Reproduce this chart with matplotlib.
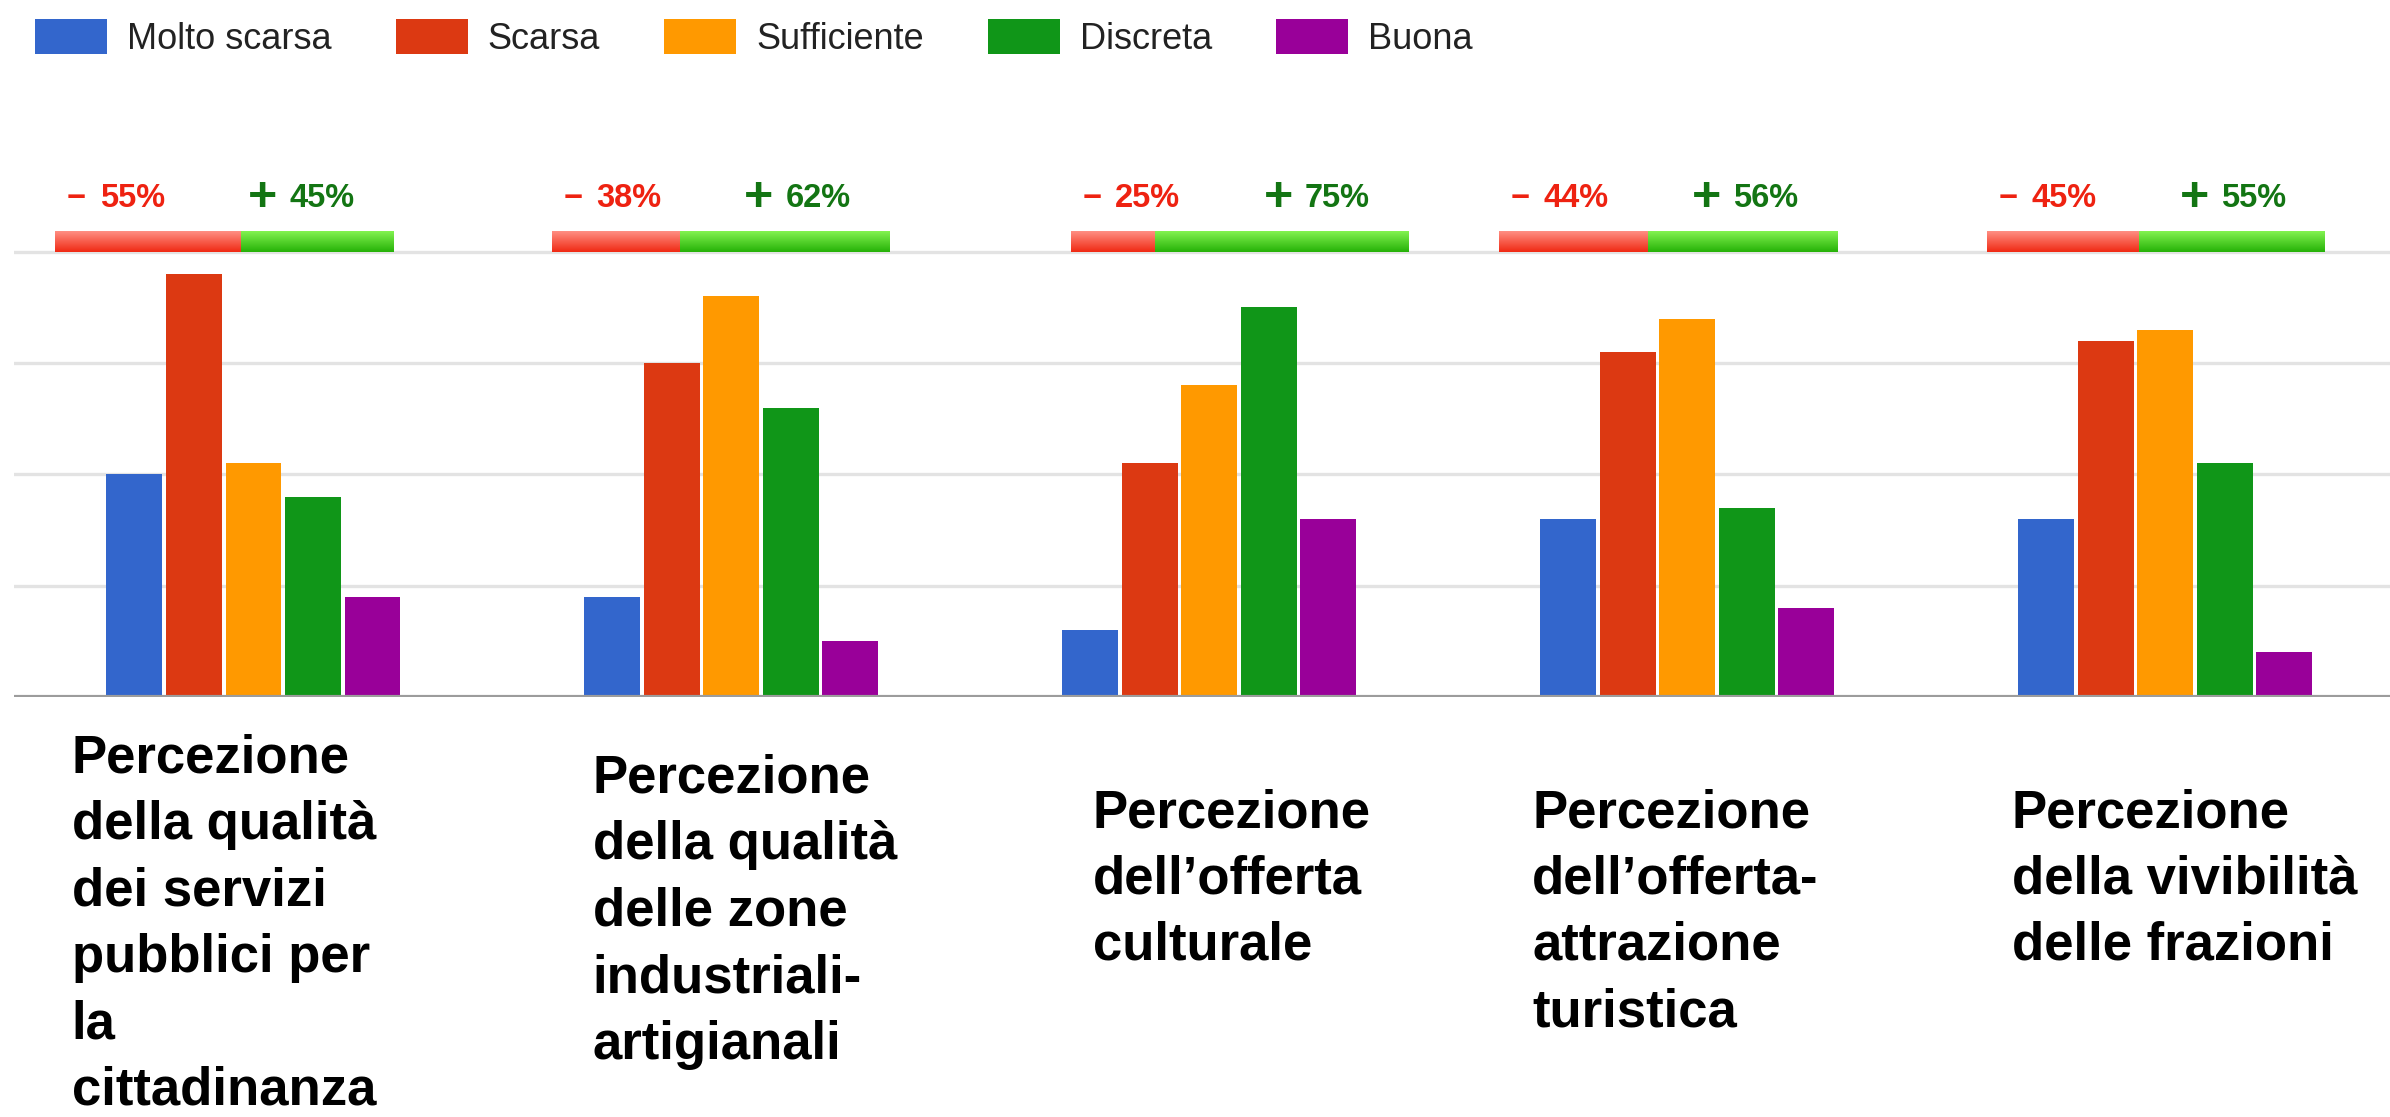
import numpy as np
import matplotlib
matplotlib.use("Agg")
import matplotlib.pyplot as plt
from matplotlib.patches import Patch

plt.rcParams['font.family'] = ['Liberation Sans', 'DejaVu Sans']

# --- data ---
categories = [
    "Percezione\ndella qualità\ndei servizi\npubblici per\nla\ncittadinanza",
    "Percezione\ndella qualità\ndelle zone\nindustriali-\nartigianali",
    "Percezione\ndell’offerta\nculturale",
    "Percezione\ndell’offerta-\nattrazione\nturistica",
    "Percezione\ndella vivibilità\ndelle frazioni",
]
series = ["Molto scarsa", "Scarsa", "Sufficiente", "Discreta", "Buona"]
molto_scarsa = [20, 9, 6, 16, 16]
scarsa = [38, 30, 21, 31, 32]
sufficiente = [21, 36, 28, 34, 33]
discreta = [18, 26, 35, 17, 21]
buona = [9, 5, 16, 8, 4]
neg_pct = [55, 38, 25, 44, 45]
pos_pct = [45, 62, 75, 56, 55]

# --- layout / style ---
colors = ["#3366cc", "#dc3912", "#ff9900", "#109618", "#990099"]
bar_w = 0.117
bar_step = 0.1245
summary_left = [-0.415, -0.376, -0.290, -0.394, -0.373]  # offset from group centre
summary_w = 0.707
summary_y0, summary_y1 = 40.0, 41.8
label_x = [-0.380, -0.290, -0.244, -0.325, -0.321]
label_top = [-3.3, -5.12, -8.18, -8.18, -8.18]
red_txt = "#ee2211"
green_txt = "#137513"


def gradient(top, bottom, n=40):
    t = np.linspace(0, 1, n)[:, None]
    top = np.array(top) / 255.0
    bottom = np.array(bottom) / 255.0
    return (top * (1 - t) + bottom * t)[:, None, :]


fig = plt.figure(figsize=(23.9, 11.17), dpi=100)
ax = fig.add_axes([14 / 2390, 420 / 1117, 2376 / 2390, 556.5 / 1117])

values = [molto_scarsa, scarsa, sufficiente, discreta, buona]
x = np.arange(len(categories))
for j, (name, vals, c) in enumerate(zip(series, values, colors)):
    ax.bar(x + (j - 2) * bar_step, vals, bar_w, color=c, label=name, zorder=2)

# summary bars (negative / positive share) with a light gradient
red_grad = gradient((255, 142, 130), (240, 42, 20))
green_grad = gradient((130, 242, 80), (38, 178, 8))
for i in range(len(categories)):
    left = i + summary_left[i]
    mid = left + summary_w * neg_pct[i] / 100
    right = left + summary_w
    ax.imshow(red_grad, extent=(left, mid, summary_y0, summary_y1),
              aspect='auto', zorder=3, interpolation='bilinear')
    ax.imshow(green_grad, extent=(mid, right, summary_y0, summary_y1),
              aspect='auto', zorder=3, interpolation='bilinear')

    ax.text(left + 0.025, 44.0, "\u2212", color=red_txt, fontsize=23.5,
            fontweight='bold', va='baseline')
    ax.text(left + 0.093, 44.0, f"{neg_pct[i]}%", color=red_txt, fontsize=23.5,
            fontweight='bold', va='baseline')
    ax.text(left + 0.403, 43.64, "+", color=green_txt, fontsize=36,
            fontweight='bold', va='baseline')
    ax.text(left + 0.490, 44.0, f"{pos_pct[i]}%", color=green_txt, fontsize=23.5,
            fontweight='bold', va='baseline')

    ax.text(i + label_x[i], label_top[i], categories[i], fontsize=38,
            fontweight='bold', color='black', va='top', ha='left',
            linespacing=1.42, clip_on=False)

ax.set_xlim(-0.501, 4.47)
ax.set_ylim(0, 50)
for g in [10, 20, 30, 40]:
    ax.axhline(g, color='#e3e3e3', lw=2.4, zorder=0)
ax.axhline(0, color='#9c9c9c', lw=3, zorder=4)
ax.set_xticks([])
ax.set_yticks([])
for s in ax.spines.values():
    s.set_visible(False)

handles = [Patch(facecolor=c, edgecolor='none', label=n) for n, c in zip(series, colors)]
fig.legend(handles=handles, loc='upper left', bbox_to_anchor=(35 / 2390, 1 - 19 / 1117),
           ncol=5, frameon=False, fontsize=26, handlelength=2.0, handleheight=1.1,
           handletextpad=0.55, columnspacing=1.77, borderpad=0, borderaxespad=0,
           labelcolor='#222222')

fig.savefig("out.png", dpi=100)
